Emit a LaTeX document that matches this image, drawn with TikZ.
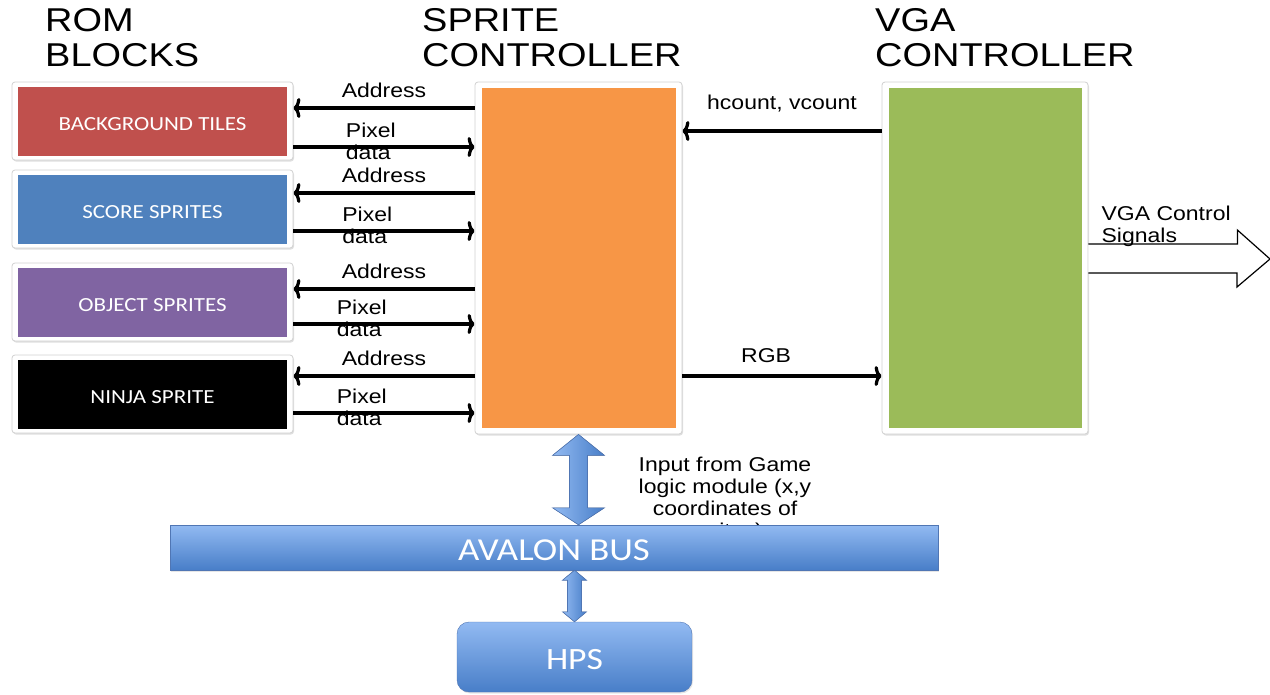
\documentclass[tikz,border=0pt]{standalone}
\usepackage{fontspec}
\setmainfont[FakeStretch=1.15]{Liberation Sans}
\newfontfamily\boxfont[FakeStretch=1.15]{Carlito}
\usepackage{tikz}
\usetikzlibrary{shapes,arrows.meta,positioning,calc,shadows}
\definecolor{bgred}{RGB}{192,80,77}
\definecolor{scoreblue}{RGB}{79,129,189}
\definecolor{objpurple}{RGB}{128,100,162}
\definecolor{sprorange}{RGB}{247,150,70}
\definecolor{vgagreen}{RGB}{155,187,89}
\definecolor{busLight}{RGB}{146,186,242}
\definecolor{busDark}{RGB}{72,126,200}
\definecolor{busEdge}{RGB}{80,118,180}
\newcommand{\lowered}[1]{\raisebox{-3pt}[\height][\depth]{#1}}

\begin{document}
\begin{tikzpicture}[x=1pt,y=-1pt,heading/.style={anchor=north west,inner sep=0pt,align=left,font=\fontsize{33}{35}\selectfont},blockframe/.style={draw=black!18,fill=white,rounded corners=3pt,line width=0.8pt,drop shadow={opacity=0.25,shadow xshift=1pt,shadow yshift=-1.5pt}},rom/.style={minimum width=269pt,minimum height=69pt,text=white,font=\boxfont\fontsize{20}{22}\selectfont},lbl/.style={inner sep=2pt,font=\fontsize{20}{22}\selectfont},arr/.style={-{To[length=7pt,width=20pt]},line width=3.2pt},bus/.style={draw=busEdge,top color=busLight,bottom color=busDark,text=white,font=\boxfont\fontsize{32}{34}\selectfont,drop shadow={opacity=0.2,shadow xshift=1pt,shadow yshift=-1.5pt}},fatarrow/.style={draw=busEdge,line width=0.6pt,left color=busLight,right color=busDark},hollow/.style={draw=black,line width=1.2pt,fill=white}]
\useasboundingbox (0,0) rectangle (1270,694);
\node[heading](romtitle) at (45,8) {ROM\\BLOCKS}; \node[heading](sprtitle) at (422,8) {SPRITE\\CONTROLLER}; \node[heading](vgatitle) at (875,8) {VGA\\CONTROLLER};
% rom blocks
\node[blockframe,minimum width=281pt,minimum height=78pt](bgframe) at (152.5,121) {}; \node[rom,fill=bgred](bg) at (bgframe) {\lowered{BACKGROUND TILES}};
\node[blockframe,minimum width=281pt,minimum height=78pt](scoreframe) at (152.5,209) {}; \node[rom,fill=scoreblue](score) at (scoreframe) {\lowered{SCORE SPRITES}};
\node[blockframe,minimum width=281pt,minimum height=78pt](objframe) at (152.5,302) {}; \node[rom,fill=objpurple](obj) at (objframe) {\lowered{OBJECT SPRITES}};
\node[blockframe,minimum width=281pt,minimum height=78pt](ninjaframe) at (152.5,394) {}; \node[rom,fill=black](ninja) at (ninjaframe) {\lowered{NINJA SPRITE}};
% controllers
\node[blockframe,minimum width=207pt,minimum height=352pt](sprframe) at (578.5,258) {}; \node[fill=sprorange,minimum width=194pt,minimum height=340pt](spr) at (sprframe) {};
\node[blockframe,minimum width=206pt,minimum height=352pt](vgaframe) at (985,258) {}; \node[fill=vgagreen,minimum width=193pt,minimum height=340pt](vga) at (vgaframe) {};
% address / pixel data
\draw[arr]($(sprframe.west|-bgframe)+(0,-13)$)--node[lbl,above=7pt]{Address}($(bgframe.east)+(0,-13)$);
\draw[arr]($(bgframe.east)+(0,26)$)--node[lbl,pos=0.27,anchor=west,yshift=6pt,align=left]{Pixel\\data}($(sprframe.west|-bgframe)+(0,26)$);
\draw[arr]($(sprframe.west|-scoreframe)+(0,-16)$)--node[lbl,above=7pt]{Address}($(scoreframe.east)+(0,-16)$);
\draw[arr]($(scoreframe.east)+(0,22)$)--node[lbl,pos=0.25,anchor=west,yshift=6pt,align=left]{Pixel\\data}($(sprframe.west|-scoreframe)+(0,22)$);
\draw[arr]($(sprframe.west|-objframe)+(0,-13)$)--node[lbl,above=7pt]{Address}($(objframe.east)+(0,-13)$);
\draw[arr]($(objframe.east)+(0,22)$)--node[lbl,pos=0.22,anchor=west,yshift=6pt,align=left]{Pixel\\data}($(sprframe.west|-objframe)+(0,22)$);
\draw[arr]($(sprframe.west|-ninjaframe)+(0,-18)$)--node[lbl,above=7pt]{Address}($(ninjaframe.east)+(0,-18)$);
\draw[arr]($(ninjaframe.east)+(0,19)$)--node[lbl,pos=0.22,anchor=west,yshift=6pt,align=left]{Pixel\\data}($(sprframe.west|-ninjaframe)+(0,19)$);
% sprite <-> vga
\draw[arr]($(vgaframe.west)+(0,-127)$)--node[lbl,above=15pt]{hcount, vcount}($(sprframe.east)+(0,-127)$);
\draw[arr]($(sprframe.east)+(0,118)$)--node[lbl,pos=0.42,above=10pt]{RGB}($(vgaframe.west)+(0,118)$);
\coordinate(vgaout) at (1270,259);
\draw[hollow]($(vgaframe.east)+(0,-14)$)--++(149,0)--++(0,-14)--(vgaout)--++(-33,28)--++(0,-14)--($(vgaframe.east)+(0,15)$);
\node[lbl,align=left,anchor=south west](vgasig) at ($(vgaframe.east)+(11,-9)$) {VGA Control\\Signals};
% bus
\node[lbl,align=center,anchor=north](gameinput) at (725,455) {Input from Game\\logic module (x,y\\coordinates of\\sprites)};
\node[bus,minimum width=768pt,minimum height=45pt](bus) at (554,547.5) {\lowered{AVALON BUS}};
\node[bus,rounded corners=12pt,minimum width=235pt,minimum height=70pt,font=\boxfont\fontsize{31}{33}\selectfont](hps) at (574.5,657) {\lowered{HPS}};
\coordinate(busin) at (bus.north-|sprframe.south);
\filldraw[fatarrow](sprframe.south)--++(26,21)--++(-17,0)--($(busin)+(9,-17)$)--++(17,0)--(busin)--++(-26,-17)--++(17,0)--($(sprframe.south)+(-9,21)$)--++(-17,0)--cycle;
\coordinate(busout) at (bus.south-|hps.north);
\filldraw[fatarrow](busout)--++(12,10)--++(-5,0)--($(hps.north)+(7,-10)$)--++(5,0)--(hps.north)--++(-12,-10)--++(5,0)--($(busout)+(-7,10)$)--++(-5,0)--cycle;
\end{tikzpicture}
\end{document}
